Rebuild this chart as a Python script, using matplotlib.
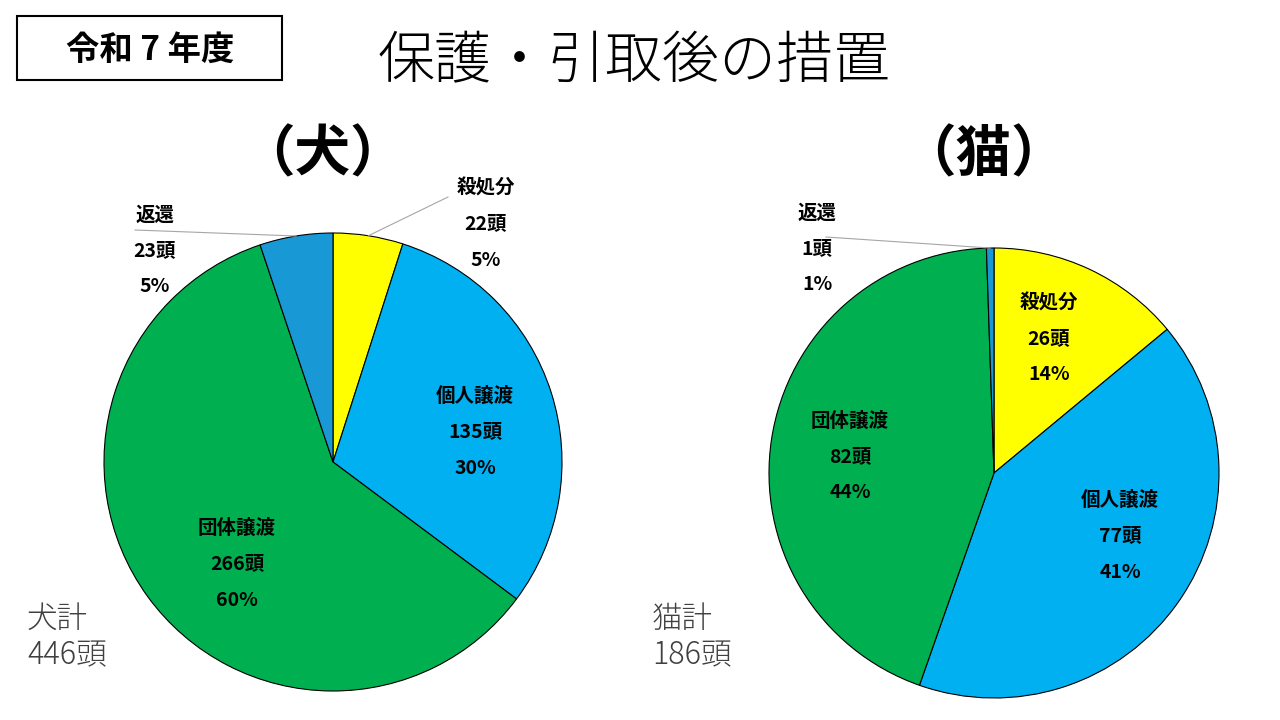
import numpy as np
import matplotlib.pyplot as plt
from matplotlib.patches import Rectangle

plt.rcParams["font.family"] = ["Noto Sans CJK JP", "DejaVu Sans"]

# データ
categories = ["殺処分", "個人譲渡", "団体譲渡", "返還"]
dog_counts = [22, 135, 266, 23]
cat_counts = [26, 77, 82, 1]
colors = ["#FFFF00", "#00B0F0", "#00B050", "#1899D6"]

W, H = 1280, 720
fig = plt.figure(figsize=(W / 100, H / 100), dpi=100)
fig.patch.set_facecolor("white")


def px(x, y):
    # ピクセル座標 -> figure座標
    return x / W, 1 - y / H


def pie_axes(cx, cy, r):
    ax = fig.add_axes([(cx - r) / W, (H - cy - r) / H, 2 * r / W, 2 * r / H])
    ax.axis("off")
    return ax


def draw_pie(ax, counts, label_pos, leaders, cx, cy, r):
    total = sum(counts)
    ax.pie(counts, colors=colors, startangle=90, counterclock=False, radius=1,
           wedgeprops=dict(edgecolor="black", linewidth=0.8))
    ax.set_xlim(-1, 1)
    ax.set_ylim(-1, 1)
    start = 90.0
    for name, n, (lx, ly), leader in zip(categories, counts, label_pos, leaders):
        span = n / total * 360
        mid = np.deg2rad(start - span / 2)
        start -= span
        pct = round(n / total * 100)
        for k, s in enumerate([name, f"{n}頭", f"{pct}%"]):
            fig.text(*px(lx, ly + 36 * k), s, ha="center", va="center",
                     fontsize=14, fontweight="bold", color="black")
        if leader is not None:
            ex, ey = cx + r * np.cos(mid), cy - r * np.sin(mid)
            x0, y0 = px(*leader)
            x1, y1 = px(ex, ey)
            fig.add_artist(plt.Line2D([x0, x1], [y0, y1], color="#A6A6A6",
                                      linewidth=0.8, transform=fig.transFigure))


# 犬
dog_ax = pie_axes(333, 462, 229)
draw_pie(dog_ax, dog_counts,
         [(486, 188), (475, 396), (237, 528), (155, 215)],
         [(448, 197), None, None, (135, 230)], 333, 462, 229)

# 猫
cat_ax = pie_axes(994, 473, 225)
draw_pie(cat_ax, cat_counts,
         [(1049, 303), (1120, 500), (850, 421), (817, 213)],
         [None, None, None, (826, 237)], 994, 473, 225)

# タイトル類
fig.add_artist(Rectangle(px(17, 80), 265 / W, 64 / H, transform=fig.transFigure,
                         facecolor="none", edgecolor="black", linewidth=1.5))
fig.text(*px(150, 50), "令和 7 年度", ha="center", va="center",
         fontsize=24, fontweight="bold")
fig.text(*px(634, 62), "保護・引取後の措置", ha="center", va="center",
         fontsize=41, fontweight="light")
fig.text(*px(322, 155), "（犬）", ha="center", va="center",
         fontsize=40, fontweight="bold")
fig.text(*px(983, 155), "（猫）", ha="center", va="center",
         fontsize=40, fontweight="bold")

fig.text(*px(27, 637), f"犬計\n{sum(dog_counts)}頭", ha="left", va="center",
         fontsize=22, color="#404040", linespacing=1.15, fontweight="light")
fig.text(*px(652, 637), f"猫計\n{sum(cat_counts)}頭", ha="left", va="center",
         fontsize=22, color="#404040", linespacing=1.15, fontweight="light")

plt.savefig("out.png", dpi=100)
